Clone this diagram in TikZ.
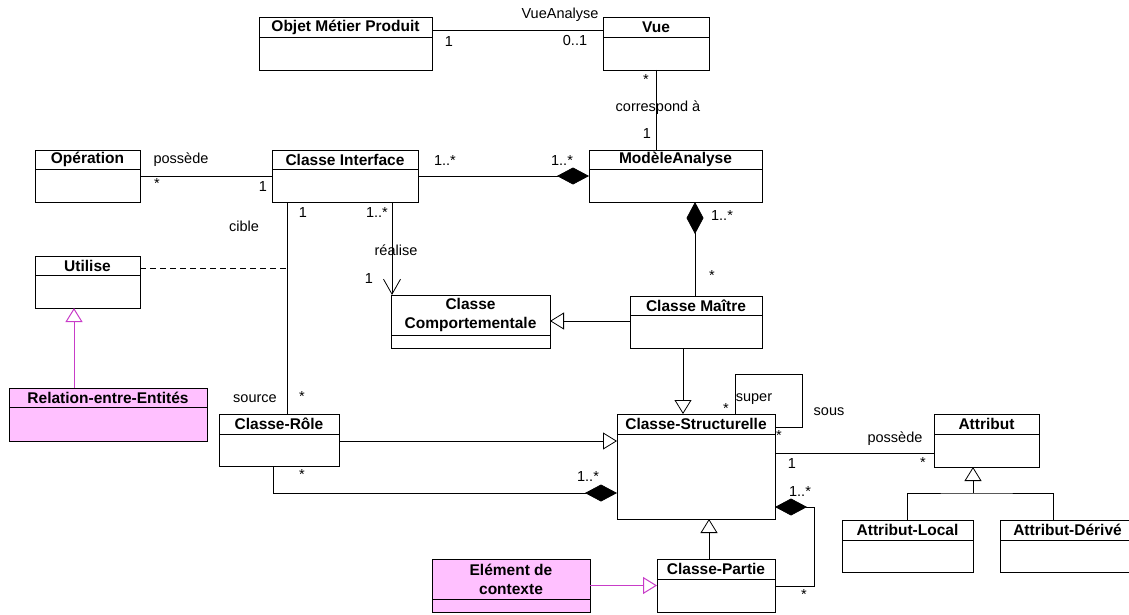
\documentclass[tikz,border=0pt]{standalone}
\usepackage{fontspec}
\setmainfont{Liberation Sans}
\usepackage{xcolor}
\usepackage{tikz}
\usetikzlibrary{positioning, calc, arrows.meta}
\definecolor{umlpink}{HTML}{FFC0FF}
\definecolor{umlmagenta}{HTML}{C83CC8}

\begin{document}
\begin{tikzpicture}[
    x=1pt, y=-1pt,
    classbox/.style={draw, line width=0.9pt, anchor=north west, inner sep=0pt, outer sep=0pt},
    classname/.style={font=\fontsize{15.5}{19}\selectfont\bfseries, align=center, inner sep=0pt},
    mult/.style={font=\fontsize{14.5}{17}\selectfont, inner sep=0pt},
    assoc/.style={line width=0.8pt},
    inherit/.style={line width=0.8pt, -{Triangle[open, length=14pt, width=17pt, fill=white]}},
    compose/.style={line width=0.8pt, {Diamond[length=32pt, width=17pt]}-},
    realise/.style={line width=0.8pt, -{Straight Barb[length=15pt, width=17pt]}},
    pinkline/.style={inherit, draw=umlmagenta, line width=1pt},
  ]
  \useasboundingbox (0,0) rectangle (1129,615);
  % classes
  \foreach \n/\x/\y/\w/\h/\d/\c/\t in {
      omp/259/17/173/53/20/white/{Objet Métier Produit},
      vue/603/17/106/53/20/white/Vue,
      op/35/150/105/52/19/white/Opération,
      ci/272/150/146/52/19/white/{Classe Interface},
      ma/589/150/173/52/19/white/ModèleAnalyse,
      util/35/256/105/52/19/white/Utilise,
      ree/9/388/198/53/19/umlpink/{Relation-entre-Entités},
      cc/391/295/159/53/40/white/{Classe\\Comportementale},
      cm/630/296/132/52/19/white/{Classe Maître},
      cr/219/414/120/52/20/white/{Classe-Rôle},
      cs/617/414/158/105/20/white/{Classe-Structurelle},
      attr/934/414/105/53/20/white/Attribut,
      cp/657/559/118/53/20/white/{Classe-Partie},
      edc/432/559/158/53/40/umlpink/{Elément de\\contexte},
      al/842/520/131/52/20/white/{Attribut-Local},
      ad/1000/520/135/52/20/white/{Attribut-Dérivé}} {
    \node[classbox, fill=\c, minimum width=\w, minimum height=\h] (\n) at (\x,\y) {};
    \draw[line width=0.9pt] ($(\n.north west)+(0,\d)$) -- ($(\n.north east)+(0,\d)$);
    \node[classname] (\n-t) at ($(\n.north)+(0,\d/2)$) {\t};
  }
  % anchor points on the boxes
  \coordinate (cib) at ($(ci.south west)+(15,0)$);
  \coordinate (cir) at ($(ci.south west)+(120,0)$);
  \coordinate (utl) at ($(util.north east)+(0,12)$);
  \coordinate (mad) at ($(ma.south west)+(106,0)$);
  \coordinate (cmw) at ($(cm.north west)+(0,25)$);
  \coordinate (cmb) at ($(cm.south west)+(53,0)$);
  \coordinate (cre) at ($(cr.north east)+(0,27)$);
  \coordinate (crb) at ($(cr.south west)+(54,0)$);
  \coordinate (csc) at ($(cs.north west)+(0,79)$);
  \coordinate (sup) at ($(cs.north west)+(118,0)$);
  \coordinate (csa) at ($(cs.north east)+(0,39)$);
  \coordinate (cse) at ($(cs.north east)+(0,93)$);
  \coordinate (cpn) at ($(cp.north west)+(52,0)$);
  \coordinate (cpe) at ($(cp.north east)+(0,27)$);
  \coordinate (atb) at ($(attr.south west)+(39,0)$);
  \coordinate (atj) at ($(al.north -| atb)+(0,-27)$);
  \coordinate (reen) at ($(ree.north west)+(65,0)$);
  % associations
  \draw[assoc] ($(omp.north east)+(0,13)$) -- ($(vue.north west)+(0,13)$);
  \draw[assoc] (vue.south) -- (vue.south |- ma.north);
  \draw[assoc] (op.east) -- (ci.west);
  \draw[assoc] (cib) -- (cib |- cr.north);
  \draw[assoc, dash pattern=on 6pt off 4pt] (utl) -- (utl -| cib);
  \draw[realise] (cir) -- (cir |- cc.north);
  \draw[assoc] (sup) -- ++(0,-40) -| ($(cs.north east)+(27,13)$) -- ($(cs.north east)+(0,13)$);
  \draw[assoc] (csa) -- (csa -| attr.west);
  % compositions
  \draw[compose] (ma.west) -- (ci.east);
  \draw[compose] (mad) -- (mad |- cm.north);
  \draw[compose] (csc) -- (csc -| crb) -- (crb);
  \draw[compose] (cse) -- ++(39,0) |- (cpe);
  % generalisations
  \draw[inherit] (cmw) -- (cmw -| cc.east);
  \draw[inherit] (cmb) -- (cmb |- cs.north);
  \draw[inherit] (cre) -- (cre -| cs.west);
  \draw[inherit] (cpn) -- (cpn |- cs.south);
  \draw[inherit] (atj) -- (atb);
  \draw[assoc] (al.north) |- (atj) -| ($(ad.north west)+(53,0)$);
  \draw[pinkline] (edc.east) -- (cp.west);
  \draw[pinkline] (reen) -- (reen |- util.south);
  % role names and multiplicities
  \foreach \i/\x/\y/\t in {
      1/560/15/VueAnalyse, 2/449/42/1, 3/575/41/0..1,
      4/646/80/*, 5/658/108/correspond à, 6/647/134/1,
      7/181/160/possède, 8/157/184/*, 9/263/187/1,
      10/445/161/1..*, 11/562/161/1..*,
      12/303/213/1, 13/377/213/1..*, 14/244/226/cible,
      15/396/250/réalise, 16/369/279/1,
      17/722/216/1..*, 18/712/276/*,
      19/255/399/source, 20/302/397/*, 21/302/475/*, 22/588/477/1..*,
      23/754/399/super, 24/726/409/*, 25/829/412/sous, 26/779/436/*,
      27/895/439/possède, 28/792/464/1, 29/923/463/*,
      30/800/492/1..*, 31/804/595/*} {
    \node[mult] (m\i) at (\x,\y) {\t};
  }
\end{tikzpicture}
\end{document}
